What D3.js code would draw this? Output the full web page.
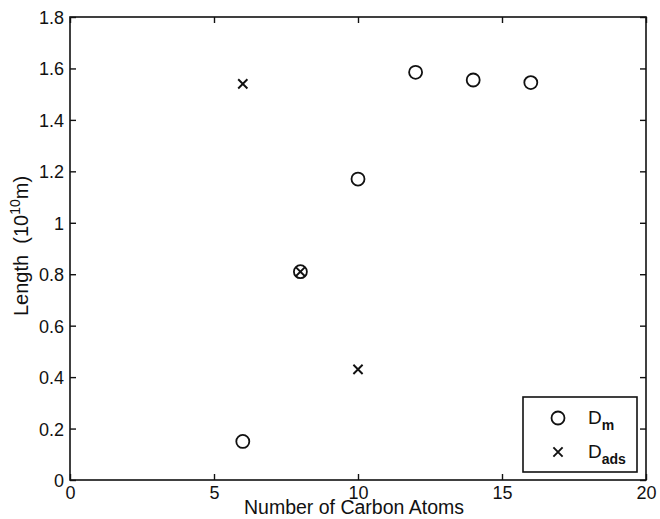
<!DOCTYPE html>
<html><head><meta charset="utf-8">
<script src="https://cdn.jsdelivr.net/npm/d3@7"></script>
<style>body{margin:0;background:#fff}svg{display:block}text{font-family:"Liberation Sans",Arial,sans-serif;fill:#111}</style>
</head><body><svg id="c" width="660" height="519"></svg>
<script>
const dmCarbon = [6, 8, 10, 12, 14, 16];
const dmLength = [0.15, 0.81, 1.17, 1.585, 1.555, 1.545];
const dadsCarbon = [6, 8, 10];
const dadsLength = [1.54, 0.81, 0.43];
const xTicks = [0, 5, 10, 15, 20];
const yTicks = [0, 0.2, 0.4, 0.6, 0.8, 1, 1.2, 1.4, 1.6, 1.8];
const legendLabels = [["D","m"],["D","ads"]];

const svg = d3.select("#c");
const L = 70, R = 646, T = 17, B = 480;
const x = d3.scaleLinear().domain([0, 20]).range([L, R]);
const y = d3.scaleLinear().domain([0, 1.8]).range([B, T]);
const fmt = d => String(d);

svg.append("rect").attr("x", L).attr("y", T).attr("width", R - L).attr("height", B - T)
  .attr("fill", "#fff").attr("stroke", "#111").attr("stroke-width", 1.6);

const tl = 6;
const gb = svg.append("g").attr("transform", `translate(0,${B})`)
  .call(d3.axisBottom(x).tickValues(xTicks).tickSize(-tl).tickPadding(6).tickFormat(fmt));
const gt = svg.append("g").attr("transform", `translate(0,${T})`)
  .call(d3.axisTop(x).tickValues(xTicks).tickSize(-tl).tickFormat(""));
const gl = svg.append("g").attr("transform", `translate(${L},0)`)
  .call(d3.axisLeft(y).tickValues(yTicks).tickSize(-tl).tickPadding(6).tickFormat(fmt));
const gr = svg.append("g").attr("transform", `translate(${R},0)`)
  .call(d3.axisRight(y).tickValues(yTicks).tickSize(-tl).tickFormat(""));
[gb, gt, gl, gr].forEach(g => {
  g.select(".domain").remove();
  g.selectAll(".tick line").attr("stroke", "#111").attr("stroke-width", 1.4);
  g.selectAll(".tick text").attr("font-size", 18).attr("fill", "#111")
    .style("font-family", '"Liberation Sans",Arial,sans-serif');
});
gl.selectAll(".tick text").attr("dy", "0.36em");

// Dm circles
svg.append("g").selectAll("circle").data(dmCarbon.map((c, i) => [c, dmLength[i]])).join("circle")
  .attr("cx", d => x(d[0])).attr("cy", d => y(d[1])).attr("r", 6.5)
  .attr("fill", "none").attr("stroke", "#111").attr("stroke-width", 1.8);

// Dads crosses
const cross = (g, cx, cy, s) => {
  g.append("path").attr("d", `M${cx - s},${cy - s}L${cx + s},${cy + s}M${cx - s},${cy + s}L${cx + s},${cy - s}`)
    .attr("stroke", "#111").attr("stroke-width", 1.9).attr("fill", "none");
};
const gc = svg.append("g");
dadsCarbon.forEach((c, i) => cross(gc, x(c), y(dadsLength[i]), 4.6));

// axis labels
svg.append("text").attr("x", 354).attr("y", 514).attr("text-anchor", "middle")
  .attr("font-size", 19.5).text("Number of Carbon Atoms");
const yl = svg.append("text").attr("transform", "translate(28,246) rotate(-90)")
  .attr("text-anchor", "middle").attr("font-size", 20).attr("xml:space", "preserve")
  .style("white-space", "pre");
yl.append("tspan").text("Length  (10");
yl.append("tspan").attr("font-size", 14).attr("dy", -8).text("10");
yl.append("tspan").attr("dy", 8).text("m)");

// legend
const lg = svg.append("g");
lg.append("rect").attr("x", 523).attr("y", 397).attr("width", 114).attr("height", 75)
  .attr("fill", "#fff").attr("stroke", "#111").attr("stroke-width", 1.6);
lg.append("circle").attr("cx", 558).attr("cy", 418).attr("r", 6.5)
  .attr("fill", "none").attr("stroke", "#111").attr("stroke-width", 1.8);
cross(lg, 558, 452, 4.6);
legendLabels.forEach((lab, i) => {
  const t = lg.append("text").attr("x", 588).attr("y", 424 + i * 34).attr("font-size", 19);
  t.append("tspan").text(lab[0]);
  t.append("tspan").attr("font-size", 14).attr("font-weight", "bold").attr("dy", 6).text(lab[1]);
});
</script></body></html>
